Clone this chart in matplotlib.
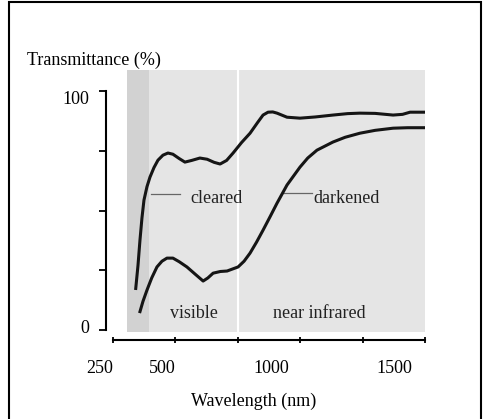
import matplotlib
matplotlib.use("Agg")
import matplotlib.pyplot as plt
from matplotlib.patches import Rectangle
from matplotlib.transforms import ScaledTranslation

plt.rcParams['font.family'] = ['Liberation Serif', 'DejaVu Serif']

# cleared state (upper curve)
cleared_wl = [341, 350, 358, 366, 374, 386, 398, 414, 430, 450, 470, 490, 515, 538,
              565, 598, 627, 655, 679, 705, 731, 765, 799, 830, 851, 871, 890,
              907, 947, 999, 1060, 1131, 1190, 1239, 1300, 1372, 1410, 1440, 1496]
cleared_t = [17.4, 27, 37.7, 47, 54.4, 60, 64.0, 68, 71.1, 73.2, 74.1, 73.6, 71.8, 70.3,
             71.0, 72.0, 71.5, 70.2, 69.5, 71.0, 74.1, 78.5, 82.4, 87.0, 90.0, 91.2, 91.3,
             90.8, 89.1, 88.7, 89.2, 90.0, 90.6, 90.8, 90.7, 90.0, 90.3, 91.2, 91.2]

# darkened state (lower curve)
darkened_wl = [358, 370, 386, 405, 426, 446, 466, 490, 515, 546, 580, 611, 630, 651,
               680, 707, 751, 775, 799, 825, 851, 880, 907, 947, 999, 1030, 1067,
               1131, 1180, 1239, 1300, 1372, 1430, 1496]
darkened_t = [7.7, 12, 16.7, 21.8, 26.4, 28.8, 30.1, 30.1, 28.6, 26.4, 23.3, 20.5, 21.8, 23.8,
              24.5, 24.7, 26.4, 28.8, 32.2, 36.8, 41.8, 47.6, 53.1, 60.7, 68.2, 72.0, 75.3,
              78.7, 80.7, 82.4, 83.6, 84.5, 84.7, 84.7]

x_ticks = [250, 500, 750, 1000, 1250, 1500]
x_labels = ['250', '500', '', '1000', '', '1500']
y_ticks = [0, 25, 50, 75, 100]
y_labels = ['0', '', '', '', '100']

fig = plt.figure(figsize=(4.83, 4.19), dpi=100)
ax = fig.add_axes([0.234, 0.2067, 0.646, 0.627])

# shaded background of the original figure
ax.axvspan(306, 394, color='#d2d2d2', lw=0, zorder=0)
ax.axvspan(394, 1500, color='#e5e5e5', lw=0, zorder=0)
ax.axvline(750, color='white', lw=1.5, zorder=1)

ax.plot(cleared_wl, cleared_t, color='#151515', lw=2.2, zorder=3)
ax.plot(darkened_wl, darkened_t, color='#151515', lw=2.2, zorder=3)

# labels with leader lines
ax.plot([402, 518], [56.9, 56.9], color='#666666', lw=0.9, zorder=2)
ax.plot([931, 1047], [57.3, 57.3], color='#666666', lw=0.9, zorder=2)
ax.text(558, 55.2, 'cleared', fontsize=13, va='center', ha='left', color='#222222')
ax.text(1051, 55.2, 'darkened', fontsize=13, va='center', ha='left', color='#222222')
ax.text(478, 7.1, 'visible', fontsize=13, va='center', ha='left', color='#222222')
ax.text(891, 7.1, 'near infrared', fontsize=13, va='center', ha='left', color='#222222')

ax.set_xlim(250, 1500)
ax.set_ylim(-1, 109)
ax.set_facecolor('none')

for s in ['top', 'right']:
    ax.spines[s].set_visible(False)
ax.spines['left'].set_position(('outward', 5))
ax.spines['bottom'].set_position(('outward', 5.5))
ax.spines['left'].set_bounds(0, 100)
ax.spines['bottom'].set_bounds(250, 1500)
ax.spines['left'].set_linewidth(1.5)
ax.spines['bottom'].set_linewidth(1.5)

ax.set_xticks(x_ticks)
ax.set_xticklabels(x_labels)
ax.set_yticks(y_ticks)
ax.set_yticklabels(y_labels)
ax.tick_params(axis='x', direction='inout', length=5, width=1.3, pad=12, labelsize=13)
ax.tick_params(axis='y', direction='out', length=5, width=1.3, pad=7, labelsize=13)

# tick labels in the original sit a bit off their ticks
x_shift = [-13, -13, 0, -29, 0, -31]
for lab, dx in zip(ax.get_xticklabels(), x_shift):
    lab.set_transform(lab.get_transform() + ScaledTranslation(dx / 100, 0, fig.dpi_scale_trans))
y_shift = [4, 0, 0, 0, -6]
for lab, dy in zip(ax.get_yticklabels(), y_shift):
    lab.set_transform(lab.get_transform() + ScaledTranslation(0, dy / 100, fig.dpi_scale_trans))

fig.text(27 / 483, 1 - 60 / 419, 'Transmittance (%)', fontsize=13, va='center', ha='left')
fig.text(254 / 483, 1 - 401 / 419, 'Wavelength (nm)', fontsize=13, va='center', ha='center')

# outer frame
fig.patches.append(Rectangle((8.5 / 483, -0.02), 472 / 483, 1.0146, transform=fig.transFigure,
                             fill=False, edgecolor='black', lw=1.5))

fig.savefig('out.png', dpi=100)
